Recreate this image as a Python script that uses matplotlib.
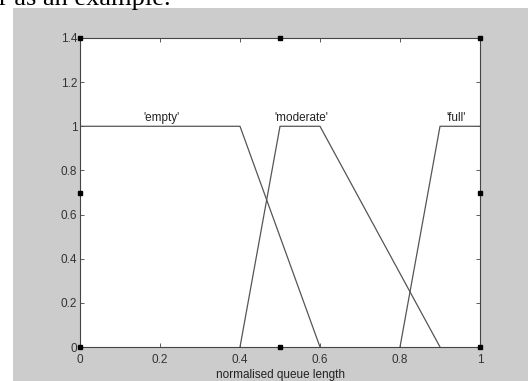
import matplotlib.pyplot as plt
from matplotlib.patches import Rectangle

# membership functions (normalised queue length -> degree)
empty_x = [0, 0.4, 0.6]
empty_y = [1, 1, 0]
moderate_x = [0.4, 0.5, 0.6, 0.9]
moderate_y = [0, 1, 1, 0]
full_x = [0.8, 0.9, 1.0]
full_y = [0, 1, 1]

labels = ["'empty'", "'moderate'", "'full'"]
label_x = [0.205, 0.554, 0.94]

xticks = [0, 0.2, 0.4, 0.6, 0.8, 1]
yticks = [0, 0.2, 0.4, 0.6, 0.8, 1, 1.2, 1.4]
yticklabels = ['0', '0.2', '0.4', '0.6', '0.8', '1', '1.2', '1.4']
xticklabels = ['0', '0.2', '0.4', '0.6', '0.8', '1']

# matlab style selection handles
handle_x = [0, 0.5, 1, 0, 1, 0, 0.5, 1]
handle_y = [0, 0, 0, 0.7, 0.7, 1.4, 1.4, 1.4]

plt.rcParams['font.family'] = ['Liberation Sans', 'DejaVu Sans']

fig = plt.figure(figsize=(5.28, 3.81), dpi=100, facecolor='white')
# grey figure panel
fig.patches.append(Rectangle((13 / 528, 0), 1, 1 - 8 / 381, transform=fig.transFigure,
                             facecolor='#cccccc', edgecolor='none', zorder=-10))
fig.text(-0.002, 1 - 5 / 381, 'r as an example.', family='Liberation Serif',
         fontsize=19, va='baseline', ha='left', color='black')

ax = fig.add_axes([80 / 528, 1 - 347 / 381, 400 / 528, 309 / 381])
ax.set_facecolor('white')

lc = '#555555'
ax.plot(empty_x, empty_y, color=lc, lw=0.9)
ax.plot(moderate_x, moderate_y, color=lc, lw=0.9)
ax.plot(full_x, full_y, color=lc, lw=0.9)
for lab, lx in zip(labels, label_x):
    ax.text(lx, 1.012, lab, ha='center', va='bottom', fontsize=8.5, color='#222222')

ax.plot(handle_x, handle_y, ls='none', marker='s', ms=3.2, color='black', clip_on=False, zorder=5)

ax.set_xlim(0, 1)
ax.set_ylim(0, 1.4)
ax.set_xticks(xticks)
ax.set_xticklabels(xticklabels)
ax.set_yticks(yticks)
ax.set_yticklabels(yticklabels)
ax.tick_params(direction='in', length=3, width=0.6, color='#444444', labelsize=8.5,
               labelcolor='#333333', top=True, right=True, pad=2)
ax.tick_params(axis='x', pad=5)
for s in ax.spines.values():
    s.set_color('#444444')
    s.set_linewidth(0.8)
ax.set_xlabel('normalised queue length', fontsize=8.5, color='#222222', labelpad=2)

fig.savefig('out.png', dpi=100, facecolor=fig.get_facecolor())
